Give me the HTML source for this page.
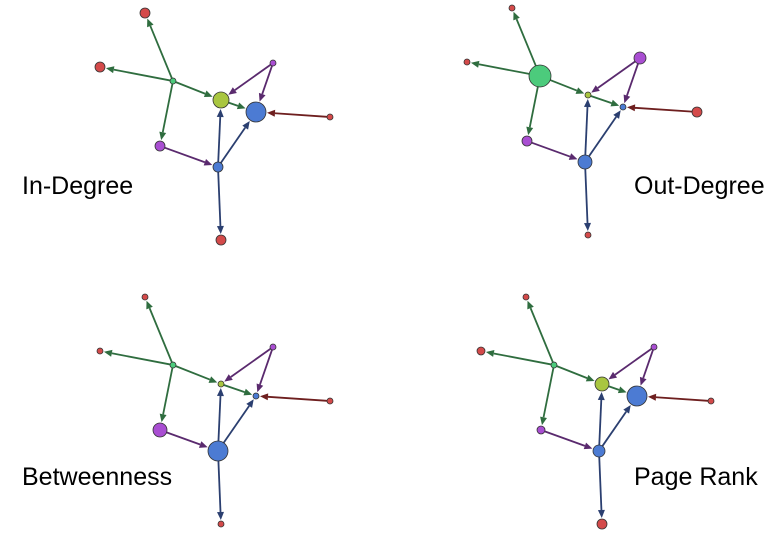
<!DOCTYPE html>
<html><head><meta charset="utf-8"><style>
html,body{margin:0;padding:0;background:#fff;width:777px;height:535px;overflow:hidden}
svg{display:block}
text{font-family:"Liberation Sans",Arial,sans-serif;font-size:25px;fill:#000}
</style></head><body>
<svg id="s" width="777" height="535" xmlns="http://www.w3.org/2000/svg">
<text x="22" y="194">In-Degree</text>
<text x="634" y="194">Out-Degree</text>
<text x="22" y="485">Betweenness</text>
<text x="634" y="485">Page Rank</text>
</svg>
<script>
var N={top:[145,13,'r'],left:[100,67,'r'],hub:[173,81,'g'],pl:[160,146,'p'],ptr:[273,63,'p'],
y:[221,100,'y'],bb:[256,112,'b'],rr:[330,117,'r'],bm:[218,167,'b'],rb:[221,240,'r']};
var C={r:'#d44a4a',g:'#4ccb7c',p:'#a94ed2',y:'#a9c640',b:'#4c7bd3'};
var EC={g:'#2f6d3f',p:'#5a2a6e',b:'#2b3f70',r:'#6e1f1f'};
var E=[['hub','top','g'],['hub','left','g'],['hub','pl','g'],['hub','y','g'],['pl','bm','p'],['bm','y','b'],
['bm','bb','b'],['bm','rb','b'],['ptr','y','p'],['ptr','bb','p'],['rr','bb','r'],['y','bb','g']];
var P=[{o:[0,0],r:{top:5,left:5,hub:3,pl:5,ptr:3,y:8,bb:10,rr:3,bm:5,rb:5}},
{o:[367,-5],r:{top:3,left:3,hub:11,pl:5,ptr:6,y:3,bb:3,rr:5,bm:7,rb:3}},
{o:[0,284],r:{top:3,left:3,hub:3,pl:7,ptr:3,y:3,bb:3,rr:3,bm:10,rb:3}},
{o:[381,284],r:{top:3,left:4,hub:3,pl:4,ptr:3,y:7,bb:10,rr:3,bm:6,rb:5}}];
var s=document.getElementById('s'),h='';
P.forEach(function(p){
 E.forEach(function(e){
  var a=N[e[0]],b=N[e[1]],x1=a[0]+p.o[0],y1=a[1]+p.o[1],x2=b[0]+p.o[0],y2=b[1]+p.o[1];
  var dx=x2-x1,dy=y2-y1,L=Math.hypot(dx,dy),ux=dx/L,uy=dy/L;
  var sr=p.r[e[0]],tr=p.r[e[1]]+1;
  var ex=x2-ux*tr,ey=y2-uy*tr,bx=ex-ux*8,by=ey-uy*8,c=EC[e[2]];
  h+='<line x1="'+(x1+ux*sr)+'" y1="'+(y1+uy*sr)+'" x2="'+bx+'" y2="'+by+'" stroke="'+c+'" stroke-width="1.8"/>';
  h+='<polygon points="'+ex+','+ey+' '+(bx-uy*3.5)+','+(by+ux*3.5)+' '+(bx+uy*3.5)+','+(by-ux*3.5)+'" fill="'+c+'"/>';
 });
 for(var k in N){var n=N[k];
  h+='<circle cx="'+(n[0]+p.o[0])+'" cy="'+(n[1]+p.o[1])+'" r="'+p.r[k]+'" fill="'+C[n[2]]+'" stroke="#333" stroke-width="0.8"/>';}
});
s.insertAdjacentHTML('beforeend',h);
</script>
</body></html>
